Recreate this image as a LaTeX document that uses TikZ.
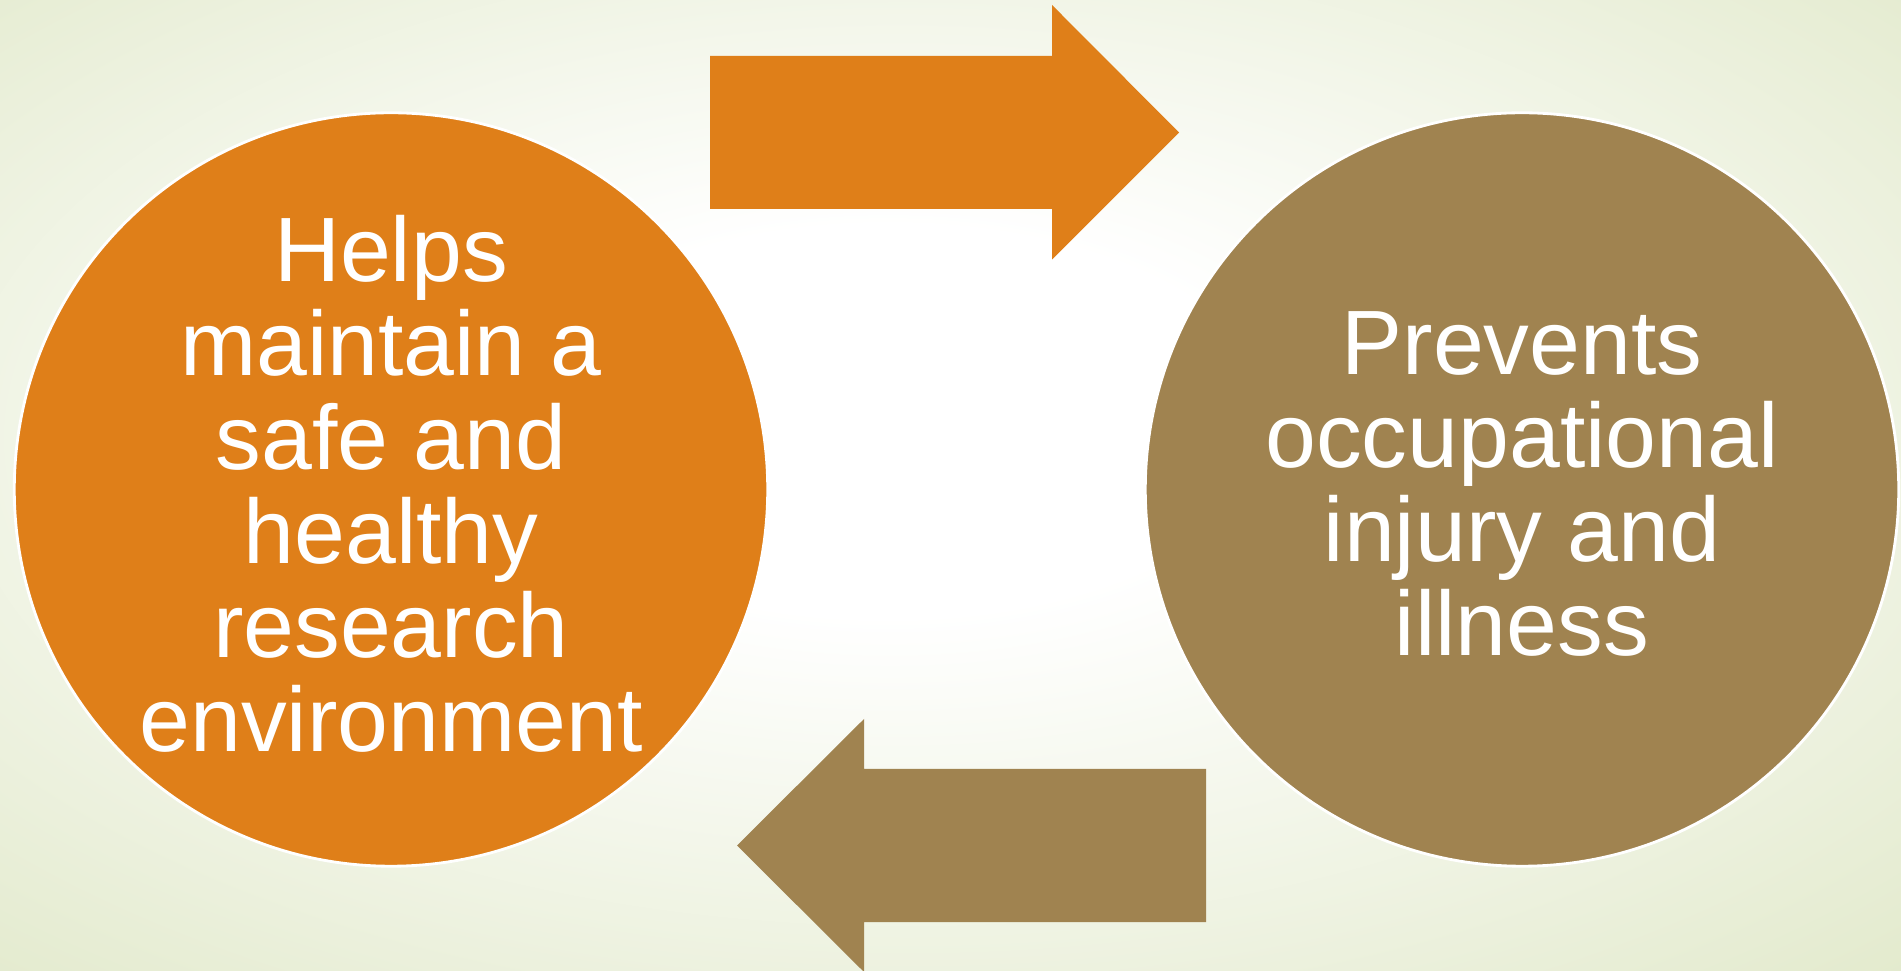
\documentclass[tikz,border=0pt]{standalone}
\usepackage{fontspec}
\setmainfont{Liberation Sans}
\definecolor{helporange}{HTML}{DF7F19}
\definecolor{preventbrown}{HTML}{A08350}
\definecolor{bggreen}{HTML}{E0E8C8}
\pgfdeclareradialshading{slidebg}{\pgfpoint{-2bp}{4bp}}{color(0bp)=(white); color(10bp)=(white); color(40bp)=(bggreen); color(60bp)=(bggreen)}
\tikzset{bubble/.style={circle, draw=white, line width=0.8pt, minimum size=7.53cm, inner sep=0pt,
  text=white, align=center, text depth=0.12cm, font=\fontsize{26}{26.7}\selectfont},
bigarrow/.style={draw=none}}

\begin{document}
\begin{tikzpicture}[x=0.01cm, y=-0.01cm]
        % background
        \useasboundingbox (0,0) rectangle (1901,971);
        \shade[shading=slidebg] (0,0) rectangle (1901,971);

        % circles
        \node[bubble, fill=helporange] (helps) at (391,489.5)
            {Helps\\maintain a\\safe and\\healthy\\research\\environment};
        \node[bubble, fill=preventbrown] (prevents) at (1522,489.5)
            {Prevents\\occupational\\injury and\\illness};

        % arrows
        \fill[bigarrow, helporange] (710,56) -- (1052,56) -- (1052,5) -- (1179,132.5)
            -- (1052,259.5) -- (1052,209) -- (710,209) -- cycle;
        \fill[bigarrow, preventbrown] (1206,769) -- (864,769) -- (864,719) -- (737,845.5)
            -- (864,972) -- (864,922) -- (1206,922) -- cycle;
\end{tikzpicture}
\end{document}
